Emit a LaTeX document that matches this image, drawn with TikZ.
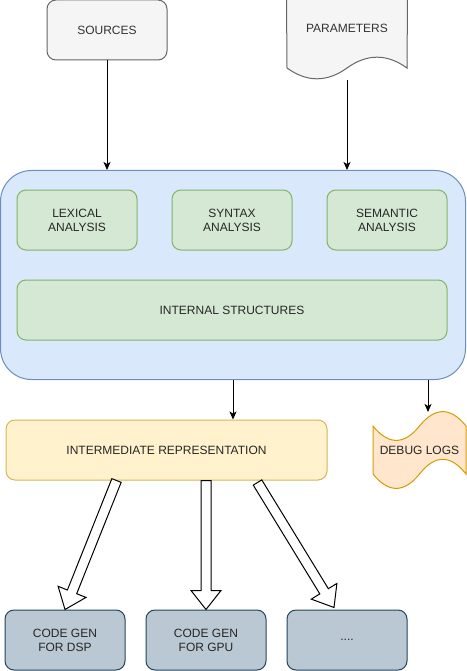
\documentclass[tikz,border=0pt]{standalone}
\usepackage{fontspec}
\setmainfont{Liberation Sans}
\usepackage{tikz}
\usetikzlibrary{arrows.meta,positioning,calc}

\definecolor{greyfill}{HTML}{F5F5F5}
\definecolor{greyline}{HTML}{666666}
\definecolor{bluefill}{HTML}{DAE8FC}
\definecolor{blueline}{HTML}{6C8EBF}
\definecolor{greenfill}{HTML}{D5E8D4}
\definecolor{greenline}{HTML}{82B366}
\definecolor{yellowfill}{HTML}{FFF2CC}
\definecolor{yellowline}{HTML}{D6B656}
\definecolor{orangefill}{HTML}{FFE6CC}
\definecolor{orangeline}{HTML}{D79B00}
\definecolor{slatefill}{HTML}{BAC8D3}
\definecolor{slateline}{HTML}{23445D}
\definecolor{labeltext}{HTML}{333333}

\tikzset{
  every box/.style={rectangle, rounded corners=9pt, line width=1pt,
    minimum width=120pt, minimum height=60pt, inner sep=0pt,
    align=center, font=\fontsize{12}{14}\selectfont, text=black!85},
  input box/.style={every box, draw=greyline, fill=greyfill, text=labeltext},
  stage box/.style={every box, draw=greenline, fill=greenfill},
  frontend box/.style={every box, draw=blueline, fill=bluefill, rounded corners=31pt},
  ir box/.style={every box, draw=yellowline, fill=yellowfill},
  codegen box/.style={every box, draw=slateline, fill=slatefill},
  plain label/.style={inner sep=0pt, align=center, font=\fontsize{12}{14}\selectfont},
  fat arrow/.style={draw=black, fill=white, line width=1pt, line join=miter},
}

\begin{document}
\begin{tikzpicture}[x=1pt, y=-1pt, >={Stealth[length=8pt, width=7pt, inset=2pt]}, line width=1pt]

\useasboundingbox (0,0) rectangle (466,671);

% inputs
\node [input box] (sources) at (107,30) {SOURCES};
\node [minimum width=120pt, minimum height=80pt, inner sep=0pt] (params) at (347,40) {};
\draw [draw=greyline, fill=greyfill] (params.north west) -- (params.north east) -- (407,68)
  .. controls (387,53.6) and (367,53.6) .. (347,68)
  .. controls (327,82.4) and (307,82.4) .. (287,68) -- cycle;
\node [plain label, text=labeltext] (params-text) at (347,28) {PARAMETERS};

% front end
\node [frontend box, minimum width=465pt, minimum height=209pt] (frontend) at (233,275) {};

\foreach \m/\l [count=\i] in {lexical/LEXICAL, syntax/SYNTAX, semantic/SEMANTIC}
  \node [stage box] (\m) at (77+\i*155-155,220) {\l\\ANALYSIS};

\node [stage box, minimum width=430pt] (internal) at (232,310) {INTERNAL STRUCTURES};

% middle
\node [ir box, minimum width=321pt] (ir) at (166.5,450) {INTERMEDIATE REPRESENTATION};

\draw [draw=orangeline, fill=orangefill] (373,426)
  .. controls (388.5,445.2) and (404,445.2) .. (419.5,426)
  .. controls (435,406.8) and (450.5,406.8) .. (466,426) -- (466,474)
  .. controls (450.5,454.4) and (435,454.4) .. (419.5,474)
  .. controls (404,493.2) and (388.5,493.2) .. (373,474) -- cycle;
\node [plain label, text=black!85] (debug) at (419.5,450) {DEBUG LOGS};
\coordinate (debug-tip) at (428,412);

% back ends
\foreach \m/\l [count=\i] in {dsp/CODE GEN\\FOR DSP, gpu/CODE GEN\\FOR GPU, more/{....}}
  \node [codegen box] (\m) at (65+\i*141-141,640) {\l};

% connectors
\draw [->] (sources.south) -- (sources.south |- frontend.north);
\draw [->] (params.south) -- (params.south |- frontend.north);
\draw [->] (frontend.south) -- (frontend.south |- ir.north);
\draw [->] (debug-tip |- frontend.south) -- (debug-tip);

\coordinate (from-dsp) at ($(ir.south)+(-50,0)$);
\coordinate (from-gpu) at (ir.south -| gpu.north);
\coordinate (from-more) at ($(ir.south)+(91,2)$);
\coordinate (to-dsp) at (dsp.north);
\coordinate (to-gpu) at (gpu.north);
\coordinate (to-more) at ($(more.north)+(-13,-2)$);

\foreach \t in {dsp, gpu, more} {
  \coordinate (head) at ($(to-\t)!19pt!(from-\t)$);
  \draw [fat arrow] ($(from-\t)!5pt!90:(to-\t)$) -- ($(head)!5pt!90:(to-\t)$)
    -- ($(head)!15pt!90:(to-\t)$) -- (to-\t)
    -- ($(head)!15pt!-90:(to-\t)$) -- ($(head)!5pt!-90:(to-\t)$)
    -- ($(from-\t)!5pt!-90:(to-\t)$) -- cycle;
}

\end{tikzpicture}
\end{document}
